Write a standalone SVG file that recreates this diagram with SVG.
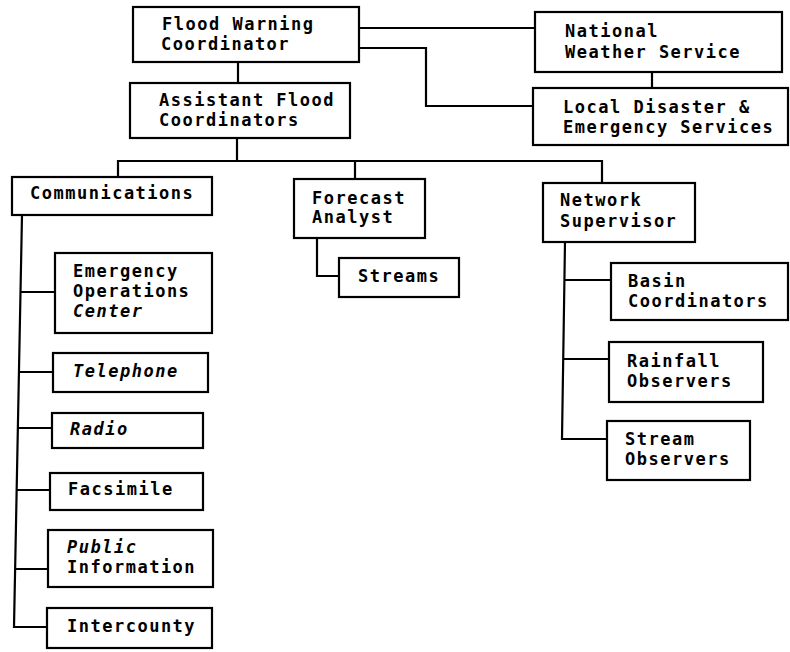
<svg xmlns="http://www.w3.org/2000/svg" width="790" height="652" viewBox="0 0 790 652">
<style>
.box{fill:#fff;stroke:#000;stroke-width:2.2}
.ln{fill:none;stroke:#000;stroke-width:2.2}
text{font-family:"DejaVu Sans Mono","Liberation Mono",monospace;font-size:17px;letter-spacing:1.5px;font-weight:bold;fill:#000}
.it{font-style:italic}
</style>
<rect width="790" height="652" fill="#fff"/>
<g id="connectors">
<path class="ln" d="M238,62 V83"/>
<path class="ln" d="M359,28 H535"/>
<path class="ln" d="M359,48 H426 V106 H533"/>
<path class="ln" d="M652,72 V88"/>
<path class="ln" d="M237,138 V161"/>
<path class="ln" d="M118,177 V161 H602 V183"/>
<path class="ln" d="M355,161 V179"/>
<path class="ln" d="M317,238 V276 H339"/>
<path class="ln" d="M22,215 L14,627 H47"/>
<path class="ln" d="M20.5,292 H55"/>
<path class="ln" d="M19,372 H53"/>
<path class="ln" d="M18,428 H52"/>
<path class="ln" d="M16.7,490 H50"/>
<path class="ln" d="M15,569 H48"/>
<path class="ln" d="M565,242 L562,439 H607"/>
<path class="ln" d="M564.4,280 H611"/>
<path class="ln" d="M563.2,359 H609"/>
</g>
<g id="flood-warning-coordinator">
<rect class="box" x="133" y="7" width="226" height="55"/>
<text x="162" y="30">Flood Warning</text>
<text x="161" y="50">Coordinator</text>
</g>
<g id="assistant-flood-coordinators">
<rect class="box" x="130" y="83" width="220" height="55"/>
<text x="159" y="106">Assistant Flood</text>
<text x="159" y="126">Coordinators</text>
</g>
<g id="national-weather-service">
<rect class="box" x="535" y="12" width="247" height="60"/>
<text x="565" y="37">National</text>
<text x="565" y="58">Weather Service</text>
</g>
<g id="local-disaster">
<rect class="box" x="533" y="88" width="255" height="57"/>
<text x="563" y="113">Local Disaster &amp;</text>
<text x="563" y="133">Emergency Services</text>
</g>
<g id="communications">
<rect class="box" x="12" y="177" width="200" height="38"/>
<text x="30" y="199">Communications</text>
</g>
<g id="forecast-analyst">
<rect class="box" x="294" y="179" width="131" height="59"/>
<text x="312" y="204">Forecast</text>
<text x="312" y="223">Analyst</text>
</g>
<g id="streams">
<rect class="box" x="339" y="258" width="120" height="39"/>
<text x="358" y="282">Streams</text>
</g>
<g id="network-supervisor">
<rect class="box" x="543" y="183" width="152" height="59"/>
<text x="560" y="206">Network</text>
<text x="560" y="227">Supervisor</text>
</g>
<g id="basin-coordinators">
<rect class="box" x="611" y="263" width="177" height="57"/>
<text x="628" y="287">Basin</text>
<text x="628" y="307">Coordinators</text>
</g>
<g id="rainfall-observers">
<rect class="box" x="609" y="342" width="154" height="60"/>
<text x="627" y="367">Rainfall</text>
<text x="627" y="387">Observers</text>
</g>
<g id="stream-observers">
<rect class="box" x="607" y="421" width="143" height="59"/>
<text x="625" y="445">Stream</text>
<text x="625" y="465">Observers</text>
</g>
<g id="emergency-operations-center">
<rect class="box" x="55" y="253" width="157" height="80"/>
<text x="73" y="277">Emergency</text>
<text x="73" y="297">Operations</text>
<text x="73" y="317" class="it">Center</text>
</g>
<g id="telephone">
<rect class="box" x="53" y="353" width="155" height="39"/>
<text x="73" y="377" class="it">Telephone</text>
</g>
<g id="radio">
<rect class="box" x="52" y="413" width="151" height="35"/>
<text x="70" y="435" class="it">Radio</text>
</g>
<g id="facsimile">
<rect class="box" x="50" y="473" width="153" height="37"/>
<text x="68" y="495">Facsimile</text>
</g>
<g id="public-information">
<rect class="box" x="48" y="530" width="165" height="57"/>
<text x="67" y="553" class="it">Public</text>
<text x="67" y="573">Information</text>
</g>
<g id="intercounty">
<rect class="box" x="47" y="608" width="165" height="40"/>
<text x="67" y="632">Intercounty</text>
</g>
</svg>
